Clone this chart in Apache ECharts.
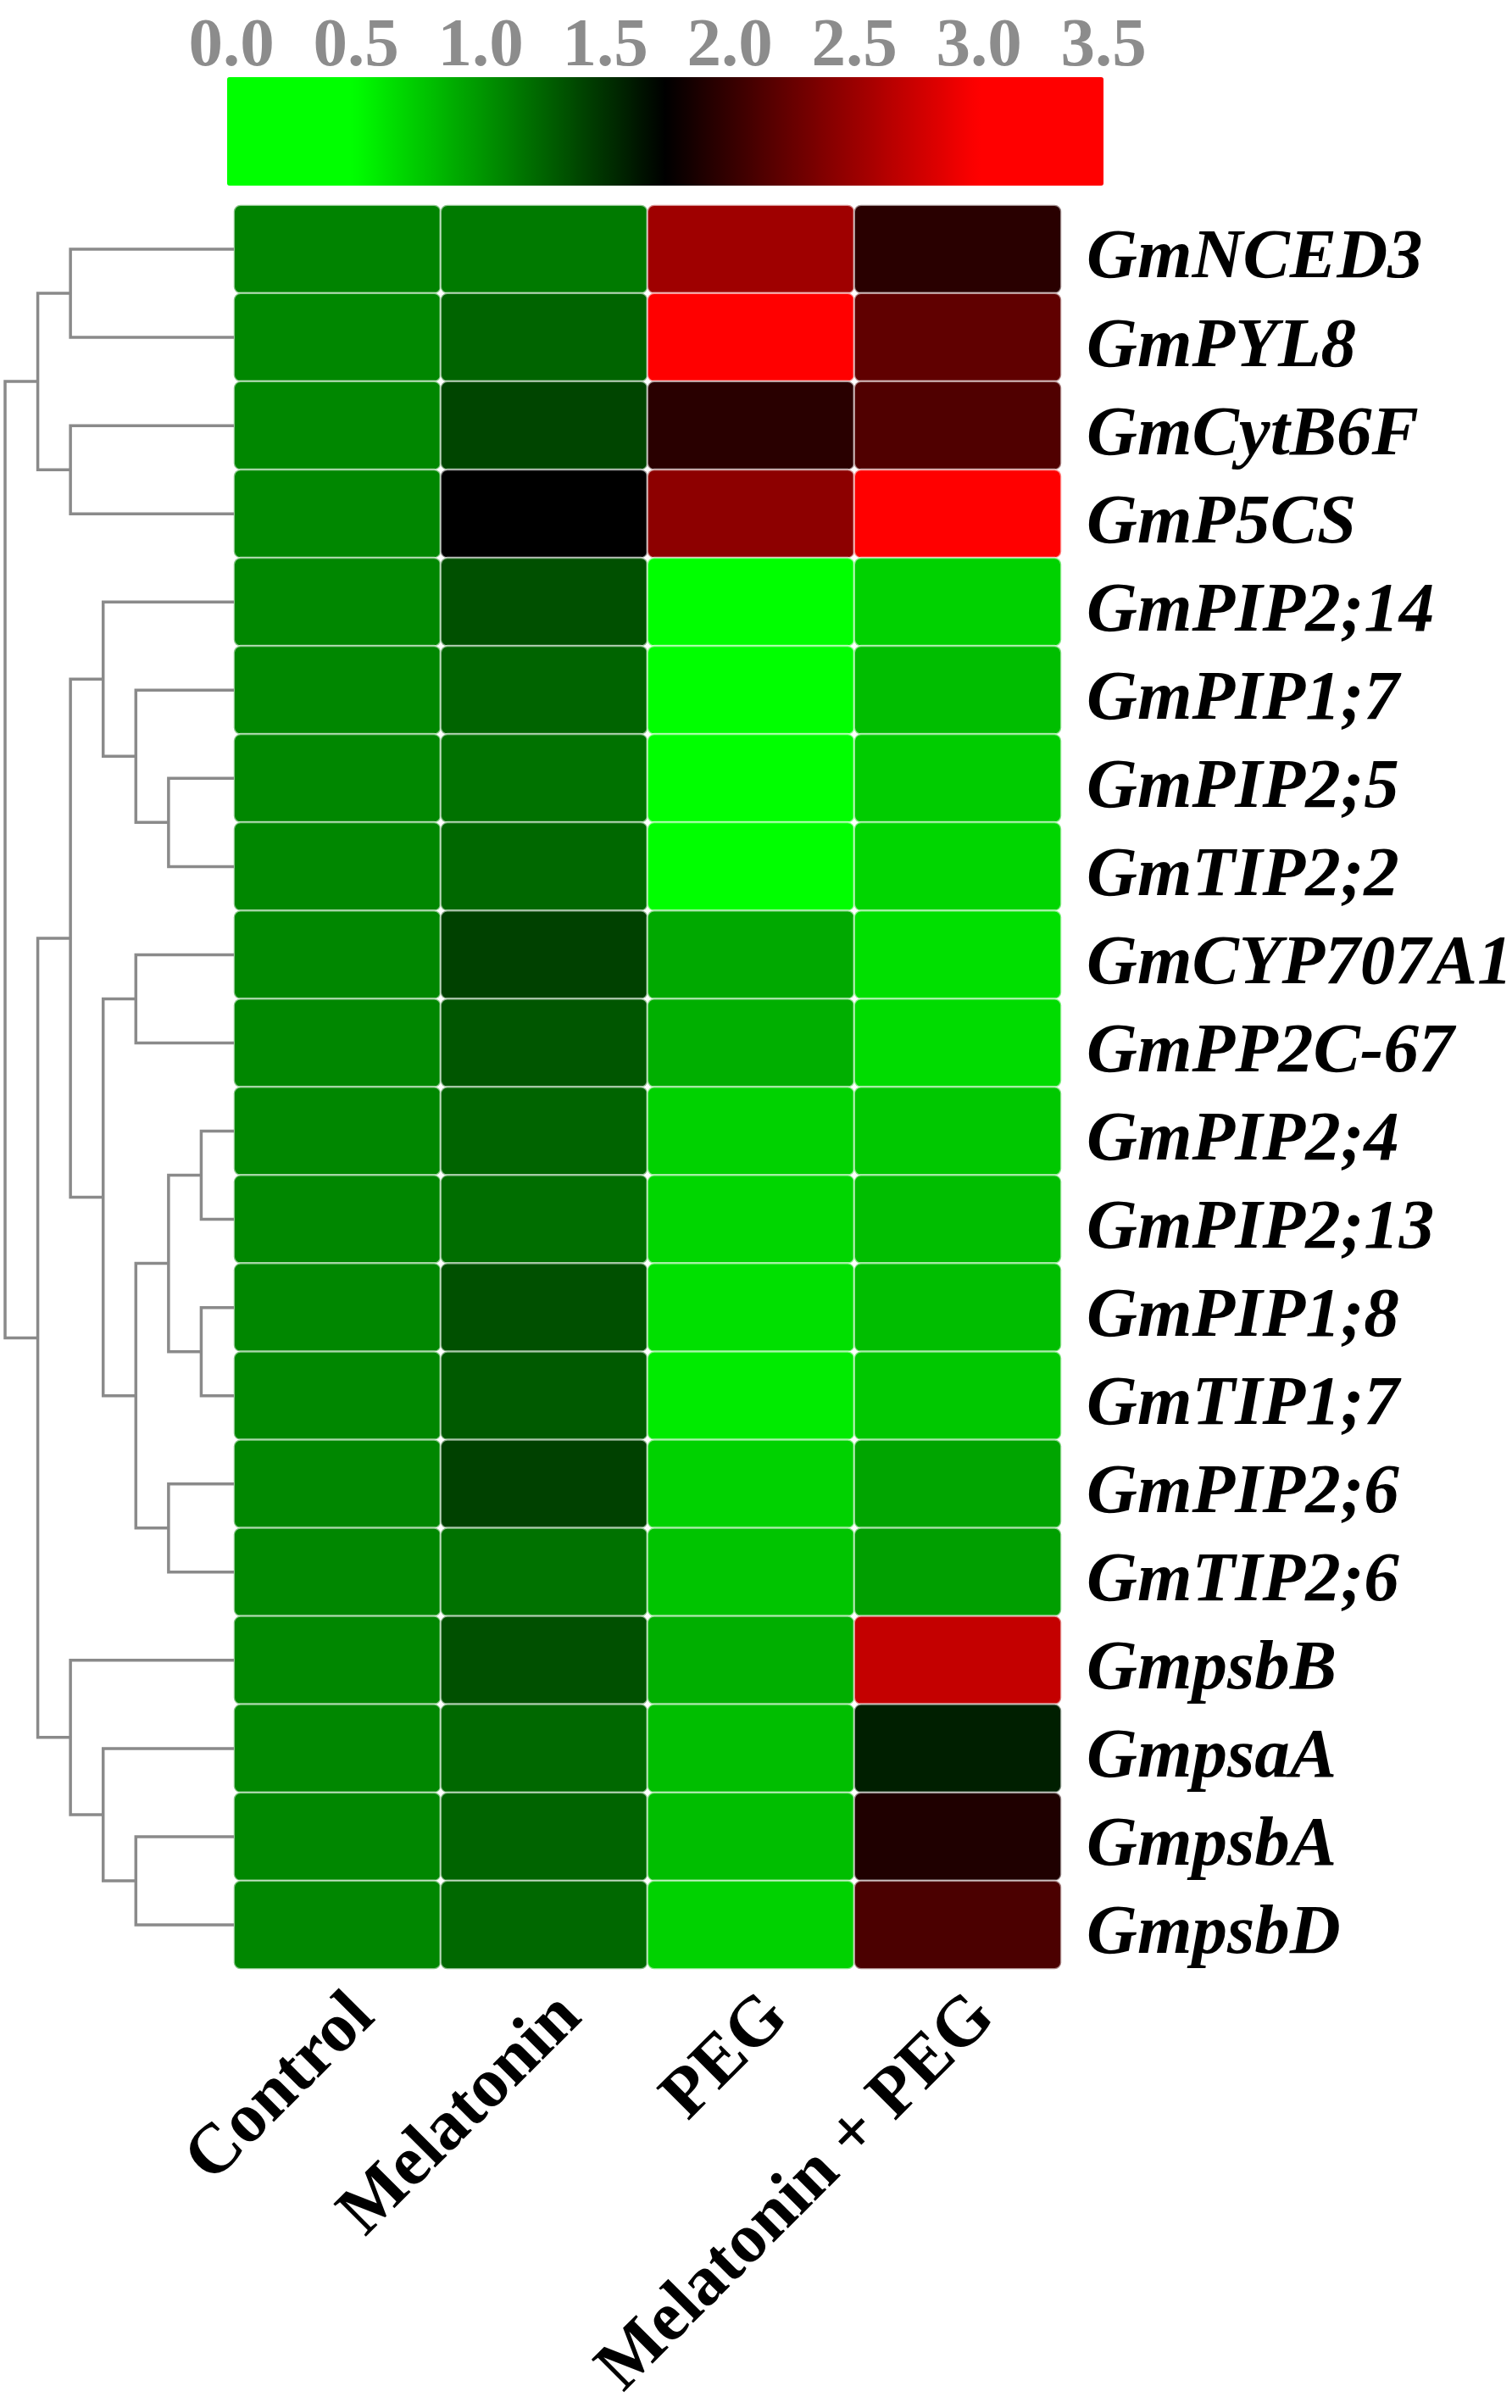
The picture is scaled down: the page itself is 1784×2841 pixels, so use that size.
<!DOCTYPE html>
<html>
<head>
<meta charset="utf-8">
<style>
html, body { margin: 0; padding: 0; background: #fff; }
#main { width: 1784px; height: 2841px; }
</style>
<script src="https://cdn.jsdelivr.net/npm/echarts@6/dist/echarts.min.js"></script>
</head>
<body>
<div id="main"></div>
<script>
var genes = ['GmNCED3', 'GmPYL8', 'GmCytB6F', 'GmP5CS', 'GmPIP2;14', 'GmPIP1;7', 'GmPIP2;5', 'GmTIP2;2',
    'GmCYP707A1', 'GmPP2C-67', 'GmPIP2;4', 'GmPIP2;13', 'GmPIP1;8', 'GmTIP1;7', 'GmPIP2;6', 'GmTIP2;6',
    'GmpsbB', 'GmpsaA', 'GmpsbA', 'GmpsbD'];
var treatments = ['Control', 'Melatonin', 'PEG', 'Melatonin + PEG'];
var control = [1.11, 1.09, 1.09, 1.09, 1.09, 1.09, 1.09, 1.09, 1.09, 1.09,
    1.09, 1.09, 1.09, 1.09, 1.09, 1.09, 1.09, 1.09, 1.09, 1.09];
var melatonin = [1.15, 1.26, 1.41, 1.75, 1.36, 1.26, 1.19, 1.24, 1.43, 1.33,
    1.26, 1.21, 1.36, 1.31, 1.43, 1.19, 1.36, 1.24, 1.26, 1.24];
var peg = [2.53, 3.3, 1.95, 2.44, 0.3, 0.3, 0.3, 0.3, 0.92, 0.89,
    0.72, 0.7, 0.65, 0.6, 0.72, 0.79, 0.89, 0.82, 0.82, 0.72];
var melatoninPeg = [1.95, 2.22, 2.14, 3.1, 0.72, 0.82, 0.75, 0.7, 0.65, 0.67,
    0.77, 0.82, 0.82, 0.77, 0.94, 0.97, 2.71, 1.6, 1.9, 2.12];
var colorTicks = [0, 3.5, 0.5]; // min, max, step
// 每0.25一档: 0.5以下纯绿, 1.75黑, 3.0以上纯红
var rampColors = ['#00ff00', '#00ff00', '#00ff00', '#00cc00', '#009900', '#006600', '#003300', '#000000',
    '#330000', '#660000', '#990000', '#cc0000', '#ff0000', '#ff0000', '#ff0000'];
// 树状图: [深度, 子节点, 子节点], 数字是行号
var geneTree = [0,
    [1, [2, 0, 1], [2, 2, 3]],
    [1,
        [2,
            [3, 4, [4, 5, [5, 6, 7]]],
            [3, [4, 8, 9], [4, [5, [6, 10, 11], [6, 12, 13]], [5, 14, 15]]]
        ],
        [2, 16, [3, 17, [4, 18, 19]]]
    ]
];
var leafDepth = 7;

var columns = [control, melatonin, peg, melatoninPeg];
var heatData = [];
columns.forEach(function (col, c) {
    col.forEach(function (v, r) {
        heatData.push([c, r, v]);
    });
});

var treeLinks = [];
function walk(node) {
    if (typeof node === 'number') {
        return { depth: leafDepth, pos: node + 0.5 };
    }
    var a = walk(node[1]);
    var b = walk(node[2]);
    treeLinks.push([node[0], a.pos, a.depth, b.pos, b.depth]);
    return { depth: node[0], pos: (a.pos + b.pos) / 2 };
}
walk(geneTree);

var serif = '"Liberation Serif", "Times New Roman", serif';
var myChart = echarts.init(document.getElementById('main'));
var option = {
    animation: false,
    backgroundColor: '#fff',
    grid: [
        { left: 276, top: 242, width: 976, height: 2081, outerBoundsMode: 'none' },
        { left: 6, top: 242, width: 270, height: 2081, outerBoundsMode: 'none' },
        { left: 273, top: 91, width: 1029, height: 128, outerBoundsMode: 'none' }
    ],
    xAxis: [
        {
            type: 'category', gridIndex: 0, data: treatments,
            axisLine: { show: false }, axisTick: { show: false }, splitLine: { show: false },
            axisLabel: {
                rotate: 45, margin: 13, verticalAlign: 'top', lineHeight: 88, interval: 0, color: '#000',
                fontFamily: serif, fontWeight: 'bold', fontSize: 83
            }
        },
        {
            type: 'value', gridIndex: 1, min: 0, max: leafDepth, show: false
        },
        {
            type: 'value', gridIndex: 2, position: 'top', min: colorTicks[0], max: colorTicks[1], interval: colorTicks[2],
            axisLine: { show: false }, axisTick: { show: false }, splitLine: { show: false },
            axisLabel: {
                margin: -6, color: '#8c8c8c', fontFamily: serif, fontWeight: 'bold', fontSize: 81,
                hideOverlap: false, showMinLabel: true, showMaxLabel: true,
                formatter: function (v) { return v.toFixed(1); }
            }
        }
    ],
    yAxis: [
        {
            type: 'category', gridIndex: 0, data: genes, inverse: true, position: 'right',
            axisLine: { show: false }, axisTick: { show: false }, splitLine: { show: false },
            axisLabel: {
                margin: 30, verticalAlign: 'top', lineHeight: 24, interval: 0, color: '#000',
                fontFamily: serif, fontWeight: 'bold', fontStyle: 'italic', fontSize: 83
            }
        },
        {
            type: 'value', gridIndex: 1, min: 0, max: genes.length, inverse: true, show: false
        },
        {
            type: 'value', gridIndex: 2, show: false, min: 0, max: 1
        }
    ],
    visualMap: {
        type: 'continuous', seriesIndex: 0, min: colorTicks[0], max: colorTicks[1],
        orient: 'horizontal', left: 268, top: 91, padding: 0,
        itemWidth: 128, itemHeight: 1034, calculable: false, realtime: false,
        showLabel: false, text: null, textGap: 0,
        inRange: { color: rampColors }
    },
    series: [
        {
            type: 'heatmap', xAxisIndex: 0, yAxisIndex: 0, data: heatData,
            itemStyle: { borderColor: 'rgba(255,255,255,0.55)', borderWidth: 2.5, borderRadius: 8 },
            emphasis: { disabled: true }
        },
        {
            type: 'custom', xAxisIndex: 1, yAxisIndex: 1, data: treeLinks, clip: false, silent: true,
            renderItem: function (params, api) {
                var p1 = api.coord([api.value(2), api.value(1)]);
                var p2 = api.coord([api.value(0), api.value(1)]);
                var p3 = api.coord([api.value(0), api.value(3)]);
                var p4 = api.coord([api.value(4), api.value(3)]);
                return {
                    type: 'polyline',
                    shape: { points: [p1, p2, p3, p4] },
                    style: { stroke: '#8a8a8a', lineWidth: 3.5, fill: null }
                };
            }
        }
    ]
};
myChart.setOption(option);
</script>
</body>
</html>
